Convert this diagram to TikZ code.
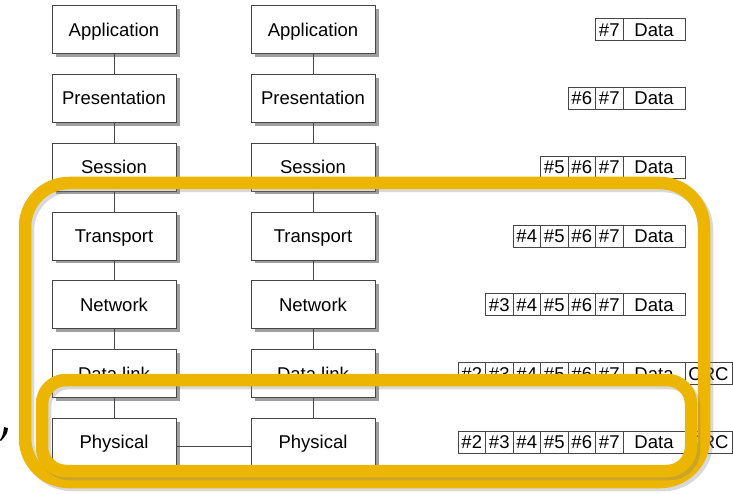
\documentclass[tikz,border=0pt]{standalone}
\usepackage{fontspec}
\setmainfont{Liberation Sans}
\usepackage{tikz}
\usetikzlibrary{positioning,shadows}
\usepackage{xcolor}
\definecolor{hiyellow}{RGB}{236,181,0}
\definecolor{edgegray}{RGB}{70,70,70}
\tikzstyle{layer} = [draw=edgegray, fill=white, minimum width=124pt, minimum height=48pt, inner sep=0pt, outer sep=0pt,
  text height=13.5pt, text depth=0pt,
  drop shadow={shadow xshift=3.5pt, shadow yshift=-3.5pt, fill=gray!75, opacity=1},
  font=\fontsize{18.5}{20}\selectfont]
\tikzstyle{hcell} = [draw=edgegray, thin, minimum width=27.5pt, minimum height=22pt, inner sep=0pt, outer sep=0pt,
  text height=13.5pt, text depth=0pt, font=\fontsize{18.5}{20}\selectfont]
\tikzstyle{datacell} = [hcell, minimum width=62pt]
\tikzstyle{crccell} = [hcell, minimum width=47pt]
\tikzstyle{link} = [draw=edgegray, thin]
\tikzstyle{hilite} = [draw=hiyellow, line width=12.5pt]
\tikzstyle{hishadow} = [draw=gray, line width=12.5pt, opacity=0.3]

\begin{document}
\begin{tikzpicture}[x=1pt, y=-1pt]
\useasboundingbox (0,0) rectangle (733,494);
% the two stacks of layers
\foreach \name/\lbl [count=\i] in {app/Application, pres/Presentation, sess/Session, trans/Transport, net/Network, dlink/Data link, phys/Physical} {
  \node[layer] (L\name) at (114, {29.5+68.75*(\i-1)}) {\lbl};
  \node[layer] (R\name) at (313, {29.5+68.75*(\i-1)}) {\lbl};
}
% links inside each stack
\foreach \a/\b in {app/pres, pres/sess, sess/trans, trans/net, net/dlink, dlink/phys} {
  \draw[link] (L\a) -- (L\b);
  \draw[link] (R\a) -- (R\b);
}
\draw[link] ([yshift=-4pt]Lphys.east) -- ([yshift=-4pt]Rphys.west);

% packet on each layer
\foreach \i/\first in {1/7, 2/6, 3/5, 4/4, 5/3, 6/2, 7/2} {
  \node[datacell, anchor=east] (c\i-8) at (685, {29.5+68.75*(\i-1)}) {Data};
  \foreach \h in {7,...,\first} {
    \pgfmathtruncatemacro\prv{\h+1}
    \node[hcell, left=0pt of c\i-\prv] (c\i-\h) {\#\h};
  }
}
\node[crccell, right=0pt of c6-8] (crc6) {CRC};
\node[crccell, right=0pt of c7-8] (crc7) {CRC};

% yellow frames
\draw[hishadow, rounded corners=44pt] (28,186) rectangle (707,485);
\draw[hilite, rounded corners=44pt] (25,183) rectangle (704,482);
\draw[hishadow, rounded corners=24pt] (45,383) rectangle (694,474);
\draw[hilite, rounded corners=24pt] (42,380) rectangle (691,471);

% stray mark at the left edge
\fill (4,427) -- (8,428) .. controls (7,434) .. (1,441) -- (0,440) .. controls (3,435) .. (4,427) -- cycle;
\end{tikzpicture}
\end{document}
